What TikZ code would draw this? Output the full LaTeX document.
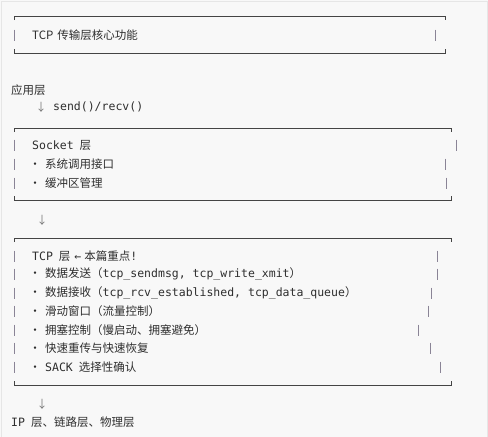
\documentclass[tikz,border=0pt]{standalone}
\usepackage{fontspec}
\setmainfont{Noto Sans CJK SC}
\newfontfamily\mono{DejaVu Sans Mono}
\definecolor{bg}{HTML}{F8F8F8}
\definecolor{frame}{HTML}{E6E6E6}
\definecolor{boxline}{HTML}{444444}
\definecolor{bar}{HTML}{8A8496}
\definecolor{txt}{HTML}{2E2E2E}
\definecolor{arr}{HTML}{777777}
\tikzset{
  txtnode/.style={anchor=west, inner sep=0pt, text=txt, font=\fontsize{11.5}{14}\selectfont},
  monotxt/.style={txtnode, font=\fontsize{11.5}{14}\selectfont\mono},
  arrownode/.style={anchor=center, inner sep=0pt, text=arr, font=\fontsize{11}{13}\selectfont},
  boxedge/.style={draw=boxline, line width=0.9pt},
  barline/.style={draw=bar, line width=0.9pt},
}
\newcommand{\mytop}[3]{% y, xl, xr
  \draw[boxedge] (#2,#1+4) -- (#2,#1) -- (#3,#1) -- (#3,#1+4);}
\newcommand{\mybot}[3]{%
  \draw[boxedge] (#2,#1-4) -- (#2,#1) -- (#3,#1) -- (#3,#1-4);}
\newcommand{\mybar}[2]{% x, y
  \draw[barline] (#1,#2-5.5) -- (#1,#2+5.5);}
\newcommand{\bul}{\makebox[12pt][l]{\hspace{-3.75pt}•}}
\begin{document}
\begin{tikzpicture}[x=1pt,y=-1pt]
\useasboundingbox (0,0) rectangle (488,437);
\fill[bg] (0,0) rectangle (488,437);
\draw[frame, line width=1pt] (1,437) -- (1,1) -- (487,1) -- (487,437);

% box 1
\mytop{16}{14}{445}
\mybot{53}{14}{445}
\mybar{14}{35}
\mybar{435}{35}
\node[txtnode] (title) at (32,35) {TCP\hspace{4pt}传输层核心功能};

% application layer
\node[txtnode] (app) at (11,90) {应用层};
\node[arrownode] (a1) at (41,107) {↓};
\node[monotxt] (send) at (53,107) {send()/recv()};

% box 2
\mytop{128}{14}{451}
\mybot{200}{14}{451}
\node[monotxt] (sock) at (32,145) {Socket\hspace{6pt}{\rmfamily 层}};
\node[txtnode] (s1) at (33,164) {\bul 系统调用接口};
\node[txtnode] (s2) at (33,183) {\bul 缓冲区管理};
\foreach \y in {145,164,183} {\mybar{14}{\y}}
\mybar{456}{145}
\mybar{445}{164}
\mybar{446}{183}

\node[arrownode] (a2) at (42,220) {↓};

% box 3
\mytop{238}{14}{451}
\mybot{385}{14}{451}
\node[txtnode] (tcp) at (32,256) {{\mono TCP}\hspace{6pt}层\hspace{4pt}{\mono ←}\hspace{3pt}本篇重点{\mono !}};
\node[txtnode] (t1) at (33,274) {\bul 数据发送（{\mono tcp\_sendmsg, tcp\_write\_xmit}）};
\node[txtnode] (t2) at (33,293) {\bul 数据接收（{\mono tcp\_rcv\_established, tcp\_data\_queue}）};
\node[txtnode] (t3) at (33,311) {\bul 滑动窗口（流量控制）};
\node[txtnode] (t4) at (33,330) {\bul 拥塞控制（慢启动、拥塞避免）};
\node[txtnode] (t5) at (33,348) {\bul 快速重传与快速恢复};
\node[txtnode] (t6) at (33,367) {\bul {\mono SACK}\hspace{6pt}选择性确认};
\foreach \y in {256,274,293,311,330,348,367} {\mybar{14}{\y}}
\mybar{437}{256}
\mybar{437}{274}
\mybar{431}{293}
\mybar{428}{311}
\mybar{418}{330}
\mybar{430}{348}
\mybar{440}{367}

\node[arrownode] (a3) at (42,404) {↓};
\node[txtnode] (ip) at (11,422) {{\mono IP}\hspace{6pt}层、链路层、物理层};
\end{tikzpicture}
\end{document}
